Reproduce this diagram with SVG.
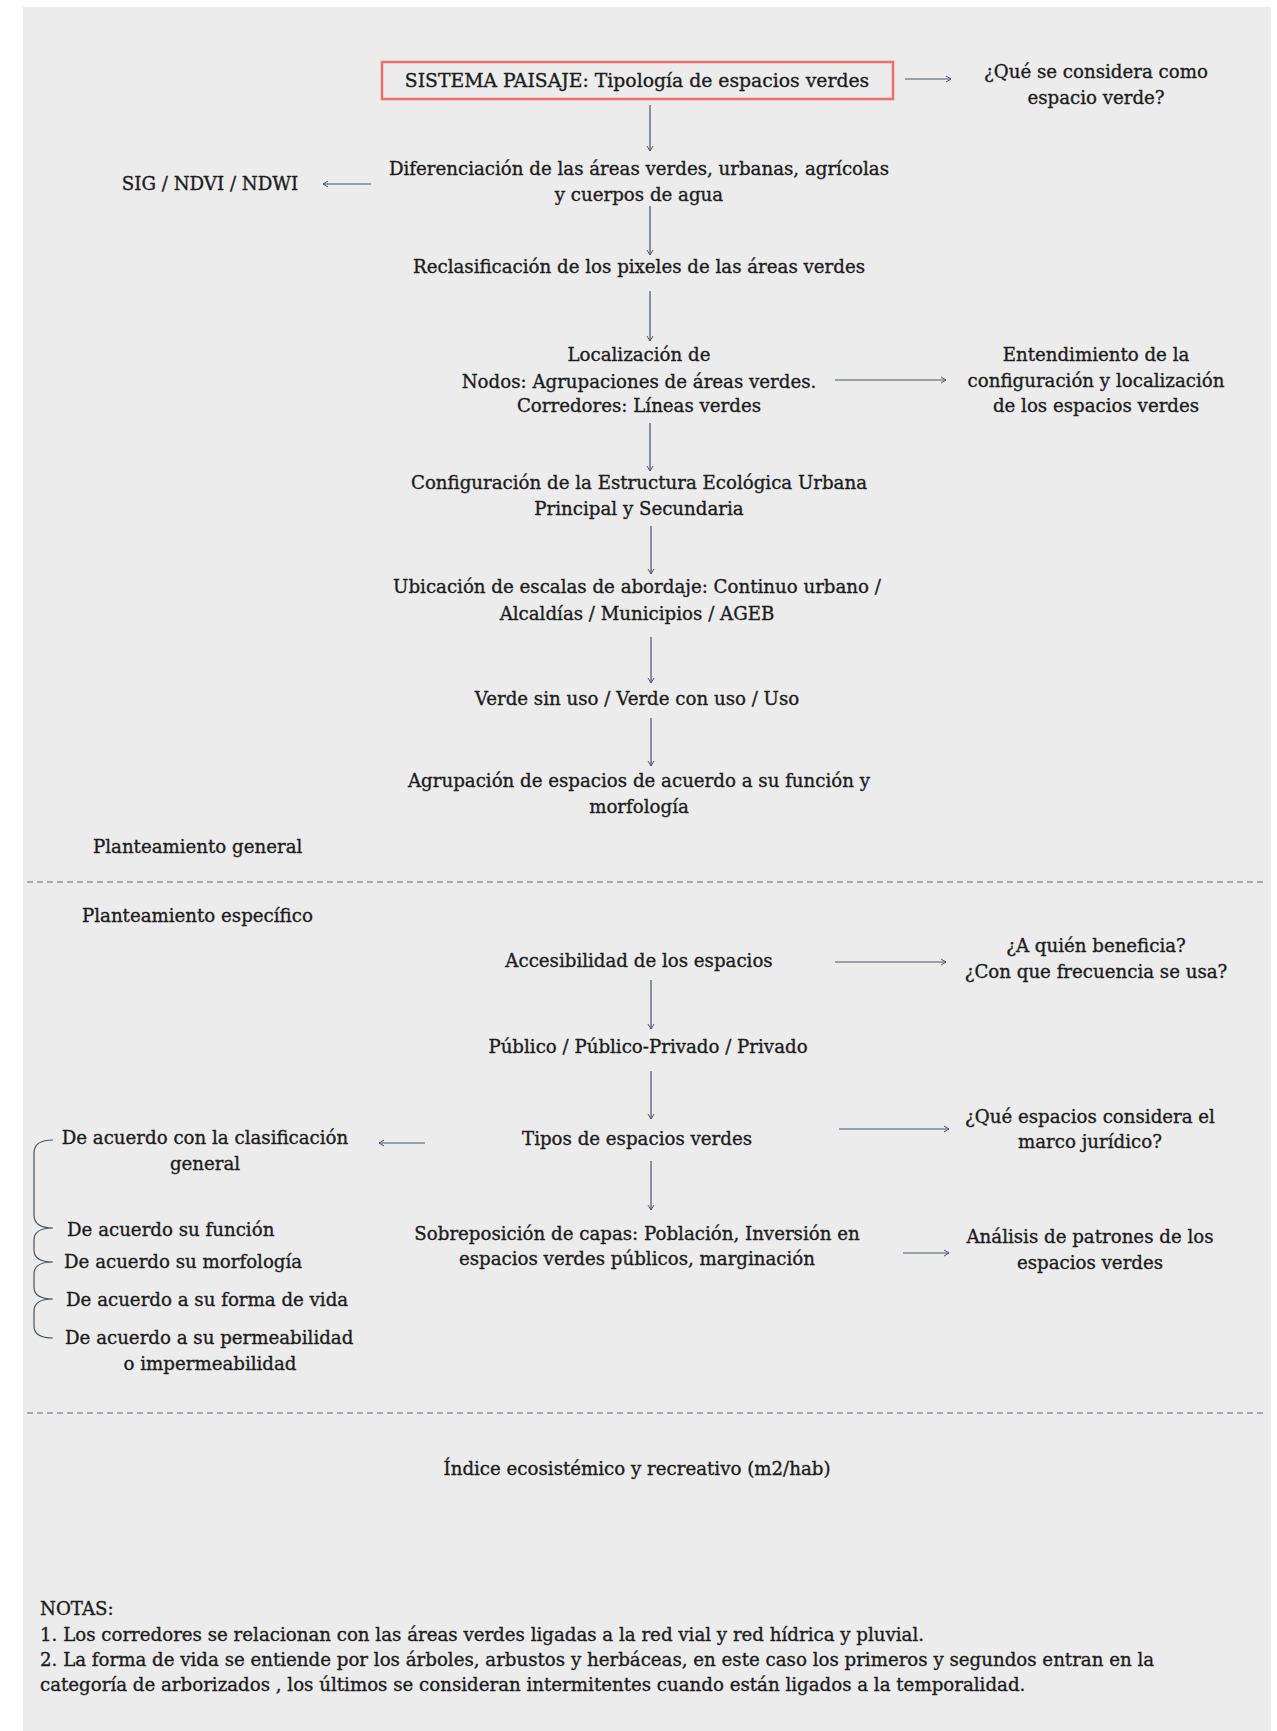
<svg xmlns="http://www.w3.org/2000/svg" width="1277" height="1731" viewBox="0 0 1277 1731">
<defs>
<style>
.t{font-family:"DejaVu Serif","Liberation Serif",serif;font-size:18.2px;fill:#1c1c1c;stroke:#1c1c1c;stroke-width:0.35;text-anchor:middle}
.l{text-anchor:start}
.c{stroke:#44546a;stroke-width:1.2;fill:none}
.d{stroke:#5b6b7c;stroke-width:1.2;stroke-dasharray:6 4;fill:none}
</style>
<marker id="ah" markerWidth="8" markerHeight="8" refX="6" refY="4" orient="auto" markerUnits="userSpaceOnUse">
<path d="M1,1 L6,4 L1,7" fill="none" stroke="#44546a" stroke-width="1"/>
</marker>
</defs>
<rect x="0" y="0" width="1277" height="1731" fill="#ffffff"/>
<rect x="23" y="7" width="1248" height="1724" fill="#ececec"/>

<g id="n-title">
<rect x="382" y="62" width="511" height="37" fill="#ececec" stroke="#ee6e6a" stroke-width="2.5"/>
<text class="t" x="637" y="87" style="font-size:18.8px">SISTEMA PAISAJE: Tipología de espacios verdes</text>
</g>
<g id="n-q1"><text class="t" x="1096" y="78">¿Qué se considera como</text><text class="t" x="1096" y="104">espacio verde?</text></g>
<g id="n-dif"><text class="t" x="639" y="175">Diferenciación de las áreas verdes, urbanas, agrícolas</text><text class="t" x="639" y="201">y cuerpos de agua</text></g>
<g id="n-sig"><text class="t" x="210" y="190">SIG / NDVI / NDWI</text></g>
<g id="n-recl"><text class="t" x="639" y="273">Reclasificación de los pixeles de las áreas verdes</text></g>
<g id="n-loc"><text class="t" x="639" y="361">Localización de</text><text class="t" x="639" y="388">Nodos: Agrupaciones de áreas verdes.</text><text class="t" x="639" y="412">Corredores: Líneas verdes</text></g>
<g id="n-ent"><text class="t" x="1096" y="361">Entendimiento de la</text><text class="t" x="1096" y="387">configuración y localización</text><text class="t" x="1096" y="412">de los espacios verdes</text></g>
<g id="n-conf"><text class="t" x="639" y="489">Configuración de la Estructura Ecológica Urbana</text><text class="t" x="639" y="515">Principal y Secundaria</text></g>
<g id="n-ubic"><text class="t" x="637" y="593">Ubicación de escalas de abordaje: Continuo urbano /</text><text class="t" x="637" y="620">Alcaldías / Municipios / AGEB</text></g>
<g id="n-verde"><text class="t" x="637" y="705">Verde sin uso / Verde con uso / Uso</text></g>
<g id="n-agr"><text class="t" x="639" y="787">Agrupación de espacios de acuerdo a su función  y</text><text class="t" x="639" y="813">morfología</text></g>
<g id="n-pg"><text class="t l" x="93" y="853">Planteamiento general</text></g>
<g id="n-pe"><text class="t l" x="82" y="922">Planteamiento específico</text></g>
<g id="n-acc"><text class="t" x="639" y="967">Accesibilidad de los espacios</text></g>
<g id="n-q2"><text class="t" x="1096" y="952">¿A quién beneficia?</text><text class="t" x="1096" y="978">¿Con que frecuencia se usa?</text></g>
<g id="n-pub"><text class="t" x="648" y="1053">Público / Público-Privado / Privado</text></g>
<g id="n-tipos"><text class="t" x="637" y="1145">Tipos de espacios verdes</text></g>
<g id="n-q3"><text class="t" x="1090" y="1123">¿Qué espacios considera el</text><text class="t" x="1090" y="1148">marco jurídico?</text></g>
<g id="n-sob"><text class="t" x="637" y="1240">Sobreposición de capas: Población, Inversión en</text><text class="t" x="637" y="1265">espacios verdes públicos, marginación</text></g>
<g id="n-anal"><text class="t" x="1090" y="1243">Análisis de patrones de los</text><text class="t" x="1090" y="1269">espacios verdes</text></g>
<g id="n-list">
<text class="t" x="205" y="1144">De acuerdo con la clasificación</text><text class="t" x="205" y="1170">general</text>
<text class="t l" x="67" y="1236">De acuerdo su función</text>
<text class="t l" x="64" y="1268">De acuerdo su morfología</text>
<text class="t l" x="66" y="1306">De acuerdo a su forma de vida</text>
<text class="t l" x="65" y="1344">De acuerdo a su permeabilidad</text>
<text class="t" x="210" y="1370">o impermeabilidad</text>
</g>
<g id="n-ind"><text class="t" x="637" y="1475">Índice ecosistémico y recreativo (m2/hab)</text></g>
<g id="n-notas">
<text class="t l" x="40" y="1615">NOTAS:</text>
<text class="t l" x="40" y="1641">1. Los corredores se relacionan con las áreas verdes ligadas a la red vial y red hídrica y pluvial.</text>
<text class="t l" x="40" y="1666">2. La forma de vida se entiende por los árboles, arbustos y herbáceas, en este caso los primeros y segundos entran en la</text>
<text class="t l" x="40" y="1691">categoría de arborizados , los últimos se consideran intermitentes cuando están ligados a la temporalidad.</text>
</g>

<g id="connectors">
<line class="c" x1="905" y1="79" x2="951" y2="79" marker-end="url(#ah)"/>
<line class="c" x1="650" y1="105" x2="650" y2="151" marker-end="url(#ah)"/>
<line class="c" x1="371" y1="184" x2="323" y2="184" marker-end="url(#ah)"/>
<line class="c" x1="650" y1="206" x2="650" y2="255" marker-end="url(#ah)"/>
<line class="c" x1="650" y1="291" x2="650" y2="341" marker-end="url(#ah)"/>
<line class="c" x1="835" y1="380" x2="946" y2="380" marker-end="url(#ah)"/>
<line class="c" x1="650" y1="423" x2="650" y2="471" marker-end="url(#ah)"/>
<line class="c" x1="651" y1="526" x2="651" y2="574" marker-end="url(#ah)"/>
<line class="c" x1="651" y1="637" x2="651" y2="683" marker-end="url(#ah)"/>
<line class="c" x1="651" y1="718" x2="651" y2="766" marker-end="url(#ah)"/>
<line class="c" x1="835" y1="962" x2="946" y2="962" marker-end="url(#ah)"/>
<line class="c" x1="651" y1="980" x2="651" y2="1029" marker-end="url(#ah)"/>
<line class="c" x1="651" y1="1071" x2="651" y2="1119" marker-end="url(#ah)"/>
<line class="c" x1="425" y1="1143" x2="379" y2="1143" marker-end="url(#ah)"/>
<line class="c" x1="839" y1="1129" x2="949" y2="1129" marker-end="url(#ah)"/>
<line class="c" x1="651" y1="1161" x2="651" y2="1210" marker-end="url(#ah)"/>
<line class="c" x1="903" y1="1253" x2="949" y2="1253" marker-end="url(#ah)"/>
<path class="c" d="M53,1140 Q34,1140 34,1153 V1215 Q34,1228 53,1228 M53,1228 Q34,1228 34,1240 V1250 Q34,1262 53,1262 M53,1262 Q34,1262 34,1274 V1287 Q34,1299 53,1299 M53,1299 Q34,1299 34,1311 V1326 Q34,1338 53,1338"/>
<line class="d" x1="27" y1="882" x2="1267" y2="882"/>
<line class="d" x1="27" y1="1413" x2="1267" y2="1413"/>
</g>
</svg>
